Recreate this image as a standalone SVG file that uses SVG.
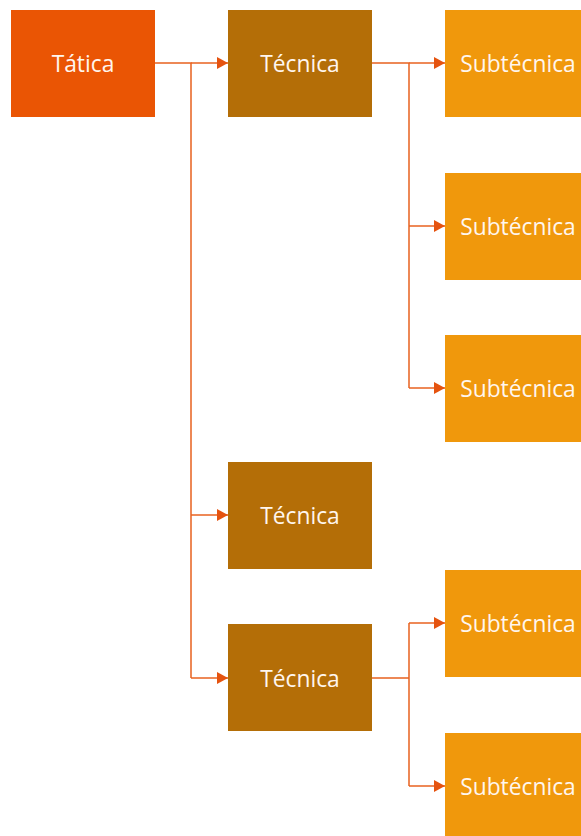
<svg xmlns="http://www.w3.org/2000/svg" width="581" height="836" viewBox="0 0 581 836">
<defs>
<marker id="arr" markerWidth="12" markerHeight="14" refX="11" refY="7" orient="auto" markerUnits="userSpaceOnUse">
<path d="M0,1 L11,7 L0,13 Z" fill="#E5530F"/>
</marker>
<style>
.tat{fill:#EA5504}
.tec{fill:#B46E07}
.sub{fill:#F0980C}
text{font-family:"Open Sans","Noto Sans","Liberation Sans",sans-serif;font-size:22.8px;fill:#FFF6EE;text-anchor:middle;dominant-baseline:central}
.c{fill:none;stroke:#E8621F;stroke-width:1.5}
</style>
</defs>
<rect width="581" height="836" fill="#FFFFFF"/>
<g id="connectors">
<path class="c" d="M155,63 H191 V678"/>
<path class="c" d="M191,63 H228" marker-end="url(#arr)"/>
<path class="c" d="M191,515 H228" marker-end="url(#arr)"/>
<path class="c" d="M191,678 H228" marker-end="url(#arr)"/>
<path class="c" d="M372,63 H409 V388"/>
<path class="c" d="M409,63 H445" marker-end="url(#arr)"/>
<path class="c" d="M409,226 H445" marker-end="url(#arr)"/>
<path class="c" d="M409,388 H445" marker-end="url(#arr)"/>
<path class="c" d="M372,678 H409 M409,623 V786"/>
<path class="c" d="M409,623 H445" marker-end="url(#arr)"/>
<path class="c" d="M409,786 H445" marker-end="url(#arr)"/>
</g>
<g id="tatica"><rect class="tat" x="11" y="10" width="144" height="107"/><text x="83" y="63">Tática</text></g>
<g id="tecnica1"><rect class="tec" x="228" y="10" width="144" height="107"/><text x="300" y="63">Técnica</text></g>
<g id="tecnica2"><rect class="tec" x="228" y="462" width="144" height="107"/><text x="300" y="515">Técnica</text></g>
<g id="tecnica3"><rect class="tec" x="228" y="624" width="144" height="107"/><text x="300" y="678">Técnica</text></g>
<g id="sub1"><rect class="sub" x="445" y="10" width="144" height="107"/><text x="518" y="63">Subtécnica</text></g>
<g id="sub2"><rect class="sub" x="445" y="173" width="144" height="107"/><text x="518" y="226">Subtécnica</text></g>
<g id="sub3"><rect class="sub" x="445" y="335" width="144" height="107"/><text x="518" y="388">Subtécnica</text></g>
<g id="sub4"><rect class="sub" x="445" y="570" width="144" height="107"/><text x="518" y="623">Subtécnica</text></g>
<g id="sub5"><rect class="sub" x="445" y="733" width="144" height="107"/><text x="518" y="786">Subtécnica</text></g>
</svg>
